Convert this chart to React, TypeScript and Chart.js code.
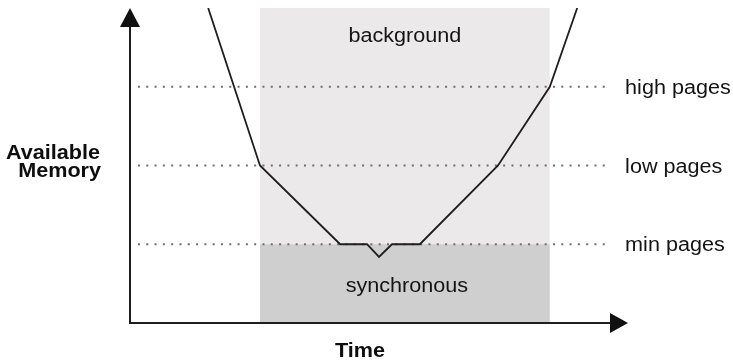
import React, { useEffect, useRef } from "react";
import { Chart, registerables } from "chart.js";

Chart.register(...registerables);

// ---- data ----
const timePoints = [15.7, 26.1, 42.2, 47.6, 50.0, 52.6, 58.2, 73.9, 84.3, 89.8];
const memoryValues = [100, 50, 25, 25, 21, 25, 25, 50, 75, 100];
const thresholdNames = ["high pages", "low pages", "min pages"];
const thresholdValues = [75, 50, 25];
const zoneRange = [26.1, 84.3]; // background reclaim zone (time)
const zoneNames = ["background", "synchronous"];
const zoneLevels = [100, 25]; // top of background zone, top of synchronous zone
const dotRange = [1.6, 95.8];
const axisTitles = ["Available", "Memory", "Time"];

const FONT = '"Liberation Sans", Arial, Helvetica, sans-serif';
const STRETCH = 1.08;

function stretchedText(
  ctx: CanvasRenderingContext2D,
  text: string,
  x: number,
  y: number,
  align: CanvasTextAlign
) {
  ctx.save();
  ctx.translate(x, y);
  ctx.scale(STRETCH, 1);
  ctx.textAlign = align;
  ctx.fillText(text, 0, 0);
  ctx.restore();
}

const decorPlugin = {
  id: "decor",
  afterDatasetsDraw(chart: any) {
    const ctx = chart.ctx as CanvasRenderingContext2D;
    const xs = chart.scales.x;
    const ys = chart.scales.y;
    const x0 = xs.getPixelForValue(0);
    const x1 = xs.getPixelForValue(100);
    const y0 = ys.getPixelForValue(0);
    const y1 = ys.getPixelForValue(100);
    ctx.save();
    // axes
    ctx.strokeStyle = "#1e1e1e";
    ctx.fillStyle = "#111";
    ctx.lineWidth = 2;
    ctx.beginPath();
    ctx.moveTo(x0, y0);
    ctx.lineTo(x0, y1 + 15);
    ctx.moveTo(x0 - 1, y0);
    ctx.lineTo(x1 - 15, y0);
    ctx.stroke();
    // arrows
    ctx.beginPath();
    ctx.moveTo(x0, y1);
    ctx.lineTo(x0 - 10, y1 + 19);
    ctx.lineTo(x0 + 10, y1 + 19);
    ctx.closePath();
    ctx.fill();
    ctx.beginPath();
    ctx.moveTo(x1, y0);
    ctx.lineTo(x1 - 18, y0 - 10);
    ctx.lineTo(x1 - 18, y0 + 10);
    ctx.closePath();
    ctx.fill();

    // zone labels
    ctx.fillStyle = "#141414";
    ctx.font = `20px ${FONT}`;
    ctx.textBaseline = "alphabetic";
    const zc = (xs.getPixelForValue(zoneRange[0]) + xs.getPixelForValue(zoneRange[1])) / 2;
    stretchedText(ctx, zoneNames[0], zc, ys.getPixelForValue(zoneLevels[0]) + 34, "center");
    stretchedText(ctx, zoneNames[1], zc + 2, ys.getPixelForValue(zoneLevels[1]) + 48, "center");

    // threshold labels
    const lx = xs.getPixelForValue(dotRange[1]) + 18;
    thresholdNames.forEach((name, i) => {
      stretchedText(ctx, name, lx, ys.getPixelForValue(thresholdValues[i]) + 7, "left");
    });

    // axis titles
    ctx.fillStyle = "#0e0e0e";
    ctx.font = `bold 20px ${FONT}`;
    const ym = ys.getPixelForValue(thresholdValues[1]);
    stretchedText(ctx, axisTitles[0], x0 - 30, ym - 7, "right");
    stretchedText(ctx, axisTitles[1], x0 - 29, ym + 11, "right");
    stretchedText(ctx, axisTitles[2], 360, y0 + 34, "center");
    ctx.restore();
  },
};

export default function App() {
  const ref = useRef<HTMLCanvasElement | null>(null);
  useEffect(() => {
    if (!ref.current) return;
    const rect = (level: number, color: string, order: number) => ({
      data: [
        { x: zoneRange[0], y: level },
        { x: zoneRange[1], y: level },
      ],
      fill: "origin",
      backgroundColor: color,
      borderWidth: 0,
      pointRadius: 0,
      order,
    });
    const datasets: any[] = [
      {
        data: timePoints.map((t, i) => ({ x: t, y: memoryValues[i] })),
        borderColor: "#1e1e1e",
        borderWidth: 1.8,
        pointRadius: 0,
        fill: false,
        tension: 0,
        order: 0,
      },
      ...thresholdValues.map((v) => ({
        data: [
          { x: dotRange[0], y: v },
          { x: dotRange[1], y: v },
        ],
        borderColor: "#6e6e6e",
        borderWidth: 2,
        borderDash: [2, 6.3],
        pointRadius: 0,
        fill: false,
        order: 1,
      })),
      rect(zoneLevels[1], "#cfcfcf", 2),
      rect(zoneLevels[0], "#ebe9ea", 3),
    ];
    const chart = new Chart(ref.current, {
      type: "line",
      data: { datasets },
      options: {
        animation: false,
        responsive: false,
        events: [],
        layout: { padding: { left: 130, right: 105, top: 8, bottom: 37 } },
        plugins: { legend: { display: false }, tooltip: { enabled: false } },
        scales: {
          x: { type: "linear", min: 0, max: 100, display: false },
          y: { type: "linear", min: 0, max: 100, display: false },
        },
      },
      plugins: [decorPlugin],
    });
    return () => chart.destroy();
  }, []);
  return (
    <div style={{ position: "absolute", left: 0, top: 0, width: 733, height: 360, background: "#fff" }}>
      <canvas ref={ref} width={733} height={360} style={{ width: 733, height: 360 }} />
    </div>
  );
}
